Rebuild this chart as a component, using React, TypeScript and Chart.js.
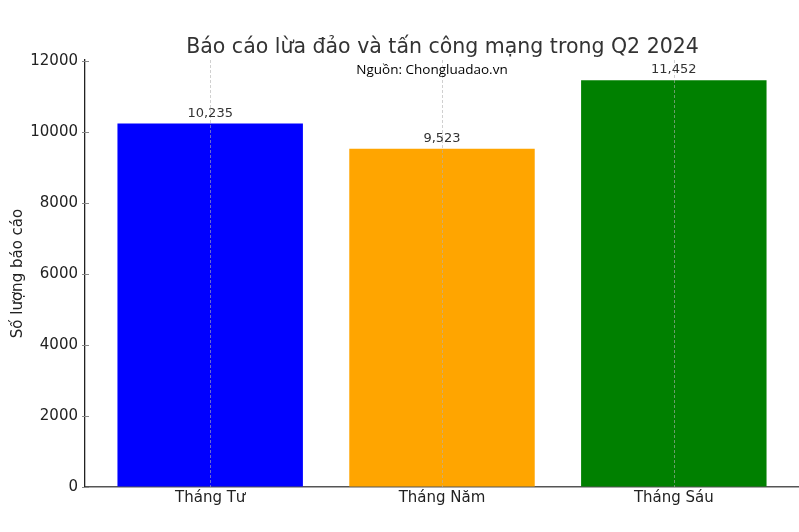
import React, { useEffect, useRef } from "react";
import { Chart, registerables } from "chart.js";

Chart.register(...registerables);

const categories = ["Tháng Tư", "Tháng Năm", "Tháng Sáu"];
const reports = [10235, 9523, 11452];
const barColors = ["#0000ff", "#ffa500", "#008000"];
const yTicks = [0, 2000, 4000, 6000, 8000, 10000, 12000];
const titleText = "Báo cáo lừa đảo và tấn công mạng trong Q2 2024";
const sourceText = "Nguồn: Chongluadao.vn";
const yTitle = "Số lượng báo cáo";

const FONT = "'DejaVu Sans', sans-serif";

const overlay = {
  id: "overlay",
  afterDatasetsDraw(chart: any) {
    const { ctx, chartArea, scales } = chart;
    const x = scales.x;
    const y = scales.y;
    ctx.save();
    // vertical dashed grid lines over bars
    ctx.strokeStyle = "rgba(176,176,176,0.75)";
    ctx.lineWidth = 0.8;
    ctx.setLineDash([3, 2]);
    categories.forEach((_, i) => {
      const px = Math.round(x.getPixelForValue(i)) + 0.5;
      ctx.beginPath();
      ctx.moveTo(px, chartArea.top);
      ctx.lineTo(px, chartArea.bottom);
      ctx.stroke();
    });
    ctx.setLineDash([]);
    // value labels
    ctx.fillStyle = "#333333";
    ctx.font = `13px ${FONT}`;
    ctx.textAlign = "center";
    ctx.textBaseline = "alphabetic";
    reports.forEach((v, i) => {
      ctx.fillText(v.toLocaleString("en-US"), x.getPixelForValue(i), y.getPixelForValue(v) - 7);
    });
    // title
    ctx.fillStyle = "#333333";
    ctx.font = `20.5px ${FONT}`;
    ctx.fillText(titleText, (chartArea.left + chartArea.right) / 2 + 0.5, 53);
    // source
    ctx.fillStyle = "#000000";
    ctx.font = `13.5px 'Open Sans', sans-serif`;
    ctx.fillText(sourceText, 432, 74);
    // y title
    ctx.save();
    ctx.translate(18, (chartArea.top + chartArea.bottom) / 2);
    ctx.rotate(-Math.PI / 2);
    ctx.fillStyle = "#222222";
    ctx.font = `15px ${FONT}`;
    ctx.textBaseline = "middle";
    ctx.fillText(yTitle, 0, 0);
    ctx.restore();
    // y ticks (small)
    ctx.strokeStyle = "#888888";
    ctx.lineWidth = 1;
    yTicks.forEach((t) => {
      const py = Math.round(y.getPixelForValue(t)) + 0.5;
      ctx.beginPath();
      ctx.moveTo(chartArea.left - 3, py);
      ctx.lineTo(chartArea.left + 4, py);
      ctx.stroke();
    });
    ctx.restore();
  },
};

export default function App() {
  const ref = useRef<HTMLCanvasElement>(null);
  useEffect(() => {
    document.body.style.margin = "0";
    const chart = new Chart(ref.current!, {
      type: "bar",
      data: {
        datasets: [
          {
            data: reports.map((v, i) => ({ x: i, y: v })),
            backgroundColor: barColors,
            borderWidth: 0,
            barPercentage: 0.8,
            categoryPercentage: 1,
          },
        ],
      },
      options: {
        responsive: false,
        animation: false,
        layout: { padding: { top: 60, left: 0, right: 0, bottom: 0 } },
        plugins: { legend: { display: false }, tooltip: { enabled: false }, title: { display: false } },
        scales: {
          x: {
            type: "linear",
            offset: false,
            min: -0.54,
            max: 2.54,
            afterBuildTicks: (s: any) => {
              s.ticks = categories.map((_, i) => ({ value: i }));
            },
            afterFit: (s: any) => {
              s.height = 45;
            },
            ticks: {
              callback: (v: any) => categories[v as number] ?? "",
              color: "#222222",
              font: { family: FONT, size: 15 },
              padding: 2,
              maxRotation: 0,
              autoSkip: false,
            },
            grid: { display: true, drawOnChartArea: false, drawTicks: false, color: "transparent" },
            border: { display: true, color: "#555555", width: 1.6 },
          },
          y: {
            type: "linear",
            min: 0,
            max: 12025,
            afterBuildTicks: (s: any) => {
              s.ticks = yTicks.map((v) => ({ value: v }));
            },
            afterFit: (s: any) => {
              s.width = 85;
            },
            ticks: {
              callback: (v: any) => String(v),
              color: "#222222",
              font: { family: FONT, size: 15 },
              padding: 7,
            },
            grid: { display: true, drawOnChartArea: false, drawTicks: true, tickLength: 0, color: "transparent" },
            border: { display: true, color: "#222222", width: 1.3 },
          },
        },
      } as any,
      plugins: [overlay],
    });
    return () => chart.destroy();
  }, []);
  return <canvas ref={ref} width={799} height={532} style={{ display: "block" }} />;
}
